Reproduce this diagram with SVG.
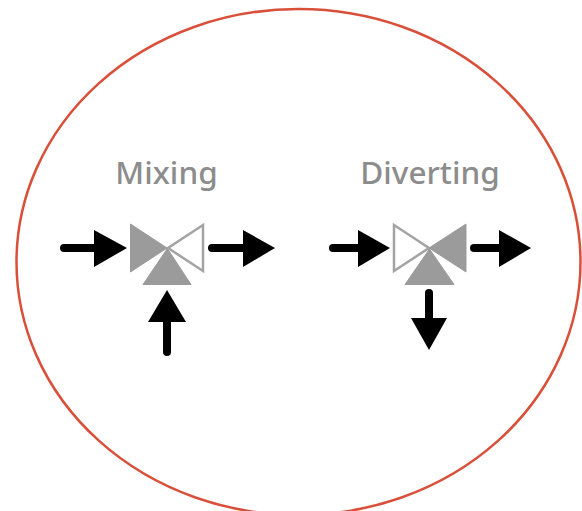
<svg xmlns="http://www.w3.org/2000/svg" width="582" height="511" viewBox="0 0 582 511">
<style>
.lbl{font-family:"Noto Sans","Open Sans",sans-serif;font-size:31.5px;font-weight:500;fill:#8c8c8c;text-anchor:middle}
.on{fill:#9b9b9b;stroke:#9b9b9b;stroke-width:1;stroke-linejoin:miter}
.off{fill:#fff;stroke:#a3a3a3;stroke-width:2.5;stroke-linejoin:miter}
.shaft{stroke:#000;stroke-width:8;stroke-linecap:round;fill:none}
.head{fill:#000}
</style>
<rect width="582" height="511" fill="#fff"/>
<ellipse id="boundary" cx="298.500" cy="262" rx="282" ry="253" fill="none" stroke="#d9503a" stroke-width="2.5"/>
<g id="mixing">
<text class="lbl" x="166.500" y="184">Mixing</text>
<polygon class="off" points="203,225 203,271 168,248"/>
<polygon class="on" points="130.500,224 130.500,272 167,248"/>
<polygon class="on" points="143,284.500 191,284.500 169,251 167,249"/>
</g>
<g id="diverting">
<text class="lbl" x="430" y="184">Diverting</text>
<polygon class="off" points="394,225 394,271 429,248"/>
<polygon class="on" points="466,224 466,272 429,248"/>
<polygon class="on" points="405,284.500 454,284.500 429.500,249"/>
</g>
<g id="connectors">
<path class="shaft" d="M64 248H98"/><polygon class="head" points="94,230 94,267 127,248"/>
<path class="shaft" d="M212 248H246"/><polygon class="head" points="243,230 243,267 275,248"/>
<path class="shaft" d="M167 352V318"/><polygon class="head" points="167,290 148,322 186,322"/>
<path class="shaft" d="M333 248H362"/><polygon class="head" points="358,230 358,267 390,248"/>
<path class="shaft" d="M474 248H503"/><polygon class="head" points="499,230 499,267 531,248"/>
<path class="shaft" d="M429 293V322"/><polygon class="head" points="411,318 447,318 429,350"/>
</g>
</svg>
